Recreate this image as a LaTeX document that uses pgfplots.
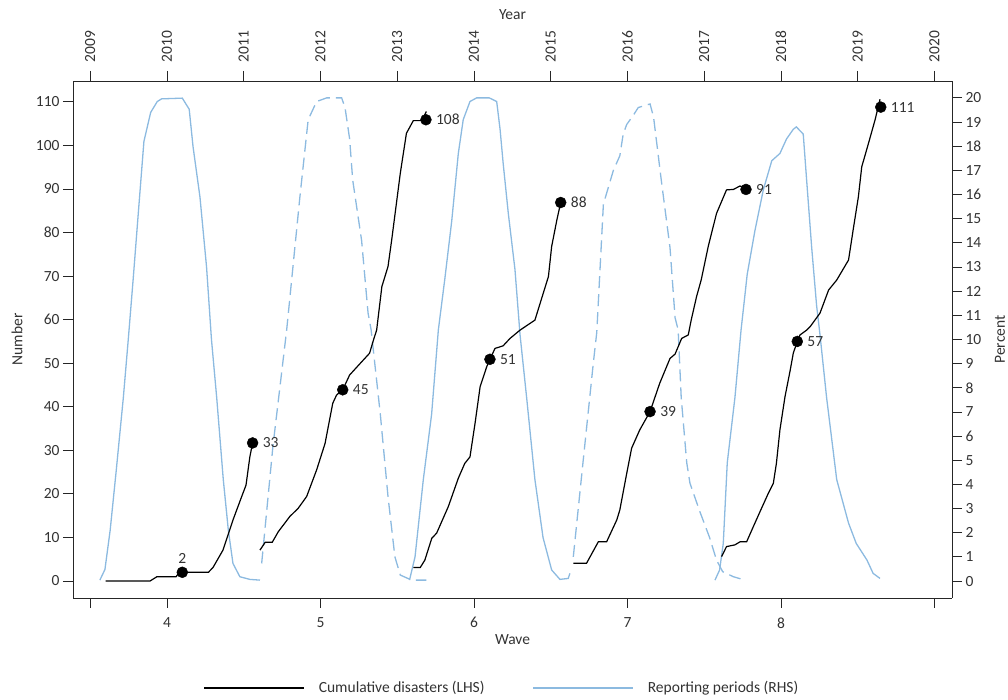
\documentclass[border=0pt]{standalone}
\usepackage{pgfplots}
\pgfplotsset{compat=1.18}
\usepackage{fontspec}
\setmainfont{Carlito}
\definecolor{rblue}{RGB}{140,186,224}
\definecolor{txt}{RGB}{51,51,51}
\newcommand{\fs}{\fontsize{15.5}{18}\selectfont}
\begin{document}
\begin{tikzpicture}[x=1pt,y=1pt]
\path[use as bounding box] (0,0) rectangle (1008,700);
\pgfplotsset{
  common/.style={
    at={(73pt,102pt)}, anchor=south west,
    scale only axis, width=879pt, height=517pt,
    xmin=3.388, xmax=9.114,
    axis line style={line width=0.9pt, black!85},
    major tick style={line width=0.9pt, black!85},
    major tick length=10pt,
    tick label style={font=\fs, text=txt},
    label style={font=\fs, text=txt},
    /pgf/number format/assume math mode=true,
    clip=false,
  }
}
% ---------------- right axis: Percent, top axis: Year
\begin{axis}[common,
  axis x line*=top, axis y line*=right,
  tick align=outside,
  ymin=-0.70, ymax=20.70,
  xtick={3.5,4,4.5,5,5.5,6,6.5,7,7.5,8,8.5,9},
  xticklabels={2009,2010,2011,2012,2013,2014,2015,2016,2017,2018,2019,2020},
  xticklabel style={rotate=90, anchor=west},
  xticklabel shift=5pt,
  ytick={0,1,...,20},
  xlabel={Year}, ylabel={Percent},
  xlabel style={at={(axis description cs:0.5,1.1277)}, anchor=center},
  ylabel style={at={(axis description cs:1.0546,0.5)}, anchor=center, rotate=0},
]
\addplot[rblue, line width=1.3pt] table {
3.563 0.04
3.596 0.48
3.63 2.1
3.67 4.6
3.716 7.6
3.748 10
3.78 12.5
3.813 15.2
3.85 18.2
3.894 19.4
3.937 19.85
3.965 19.96
4.10 19.99
4.145 19.53
4.17 17.98
4.215 15.9
4.258 13.0
4.29 10.0
4.324 7.6
4.367 4.2
4.40 2.1
4.43 0.73
4.475 0.18
4.54 0.07
4.606 0.04
};
\addplot[rblue, line width=1.3pt, dash pattern=on 12pt off 6pt] table {
4.617 0.73
4.69 5.56
4.78 10.4
4.866 15.9
4.92 19.1
4.975 19.85
5.04 20.0
5.138 20.0
5.16 19.6
5.19 18.3
5.21 16.6
5.268 14.1
5.31 11.1
5.33 10.4
5.39 6.9
5.44 3.5
5.485 1.0
5.52 0.25
5.594 0.04
5.69 0.04
};
\addplot[rblue, line width=1.3pt] table {
5.58 0.04
5.616 1.0
5.67 4.2
5.724 6.9
5.768 10.4
5.81 12.5
5.855 14.9
5.898 17.7
5.93 19.1
5.974 19.85
6.017 20.0
6.10 20.0
6.148 19.85
6.17 18.7
6.19 17.3
6.224 15.2
6.267 12.9
6.30 10.2
6.343 7.6
6.397 4.2
6.45 1.8
6.506 0.46
6.56 0.07
6.614 0.11
6.625 0.32
};
\addplot[rblue, line width=1.3pt, dash pattern=on 12pt off 6pt] table {
6.647 1.0
6.71 4.9
6.777 9.0
6.80 10.3
6.843 15.6
6.908 17.0
6.95 17.6
6.972 18.5
6.995 18.9
7.04 19.3
7.07 19.6
7.147 19.75
7.17 19.2
7.22 16.6
7.277 13.8
7.31 10.9
7.33 10.4
7.35 7.6
7.386 4.9
7.407 4.05
7.47 2.9
7.535 1.8
7.58 0.87
7.62 0.39
7.69 0.18
7.765 0.04
};
\addplot[rblue, line width=1.3pt] table {
7.57 0.04
7.60 0.46
7.624 1.56
7.65 4.9
7.70 7.6
7.74 10.4
7.78 12.7
7.83 14.5
7.885 16.2
7.94 17.4
7.993 17.7
8.036 18.3
8.08 18.7
8.10 18.8
8.145 18.5
8.167 16.6
8.20 13.8
8.232 11.4
8.254 10.2
8.297 7.6
8.363 4.2
8.44 2.4
8.49 1.56
8.56 0.87
8.60 0.32
8.645 0.11
};
\end{axis}
% ---------------- left axis: Number, bottom axis: Wave
\begin{axis}[common,
  axis x line*=bottom, axis y line*=left,
  tick align=outside,
  ymin=-3.9, ymax=114.8,
  xtick={3.5,4,5,6,7,8,9},
  xticklabels={,4,5,6,7,8,},
  xticklabel shift=6pt,
  ytick={0,10,...,110},
  xlabel={Wave}, ylabel={Number},
  xlabel style={at={(axis description cs:0.5,-0.0812)}, anchor=center},
  ylabel style={at={(axis description cs:-0.0637,0.5)}, anchor=center},
  legend style={at={(axis description cs:0.488,-0.1741)}, anchor=center,
    draw=none, fill=none, font=\fs, text=txt, legend columns=2,
    /tikz/every odd column/.append style={column sep=12pt},
    /tikz/every even column/.append style={column sep=46pt}},
  legend cell align=left,
  legend image code/.code={\draw[#1] (0pt,0pt) -- (100pt,0pt);},
]
\addplot[black, line width=1.2pt] table {
3.60 0
3.89 0
3.935 1
4.06 1
4.08 2
4.27 2
4.30 3.1
4.365 7.1
4.43 14
4.487 19.4
4.515 22
4.54 28.5
4.558 31.7
};
\addlegendentry{Cumulative disasters (LHS)}
\addlegendimage{rblue, line width=1.3pt}
\addlegendentry{Reporting periods (RHS)}
\addplot[black, line width=1.2pt, forget plot] table {
4.606 7.1
4.64 8.9
4.686 8.9
4.725 11.3
4.80 14.8
4.855 16.7
4.91 19.4
4.975 25.5
5.03 31.6
5.08 40.8
5.105 42.7
5.145 43.9
5.19 47.3
5.26 50
5.32 52.3
5.345 55.3
5.366 57.6
5.40 67.6
5.44 72.2
5.464 78.3
5.52 93.6
5.56 102.8
5.605 105.7
5.66 105.7
5.69 107.8
};
\addplot[black, line width=1.2pt, forget plot] table {
5.605 3.1
5.65 3.1
5.68 4.8
5.725 9.8
5.757 11
5.833 17.1
5.898 23.6
5.94 27
5.974 28.5
6.007 36.2
6.04 44.6
6.083 49.2
6.104 50.9
6.137 53.4
6.19 54
6.235 55.7
6.30 57.6
6.397 59.9
6.485 69.9
6.506 76.8
6.54 82.9
6.565 86.9
};
\addplot[black, line width=1.2pt, forget plot] table {
6.647 4.06
6.733 4.06
6.81 9
6.864 9
6.93 14
6.95 16.3
6.995 24.7
7.027 30.5
7.08 34.7
7.147 38.9
7.21 45.4
7.277 51.1
7.31 52.1
7.353 55.7
7.396 56.5
7.415 59.9
7.45 65.3
7.48 69.1
7.526 76.8
7.58 84.4
7.645 89.8
7.69 89.9
7.733 90.7
7.772 89.9
};
\addplot[black, line width=1.2pt, forget plot] table {
7.613 5.6
7.645 7.9
7.70 8.3
7.733 9
7.776 9
7.82 12.5
7.863 15.9
7.917 20.1
7.95 22.4
7.97 27
7.993 34.7
8.026 42.3
8.06 48.4
8.08 52.3
8.106 55
8.124 56.5
8.167 57.6
8.19 58.4
8.254 61.5
8.31 66.8
8.363 69.1
8.44 73.7
8.47 80.6
8.504 88.2
8.526 95.1
8.57 100.5
8.613 105.9
8.645 110.6
};
% labelled dots
\addplot[forget plot, only marks, mark=*, mark size=5.5pt, black,
  point meta=explicit symbolic, nodes near coords,
  every node near coord/.append style={anchor=west, inner sep=0pt, xshift=10pt, font=\fs, text=txt}]
  table[meta=lab] {
x y lab
4.558 31.7 33
5.145 43.9 45
5.687 105.9 108
6.104 50.9 51
6.565 86.9 88
7.147 38.9 39
7.772 89.9 91
8.106 55 57
8.65 108.8 111
};
\addplot[forget plot, only marks, mark=*, mark size=5.5pt, black,
  point meta=explicit symbolic, nodes near coords,
  every node near coord/.append style={anchor=south, inner sep=0pt, yshift=9pt, font=\fs, text=txt}]
  table[meta=lab] {
x y lab
4.10 2 2
};
\end{axis}
\end{tikzpicture}
\end{document}
